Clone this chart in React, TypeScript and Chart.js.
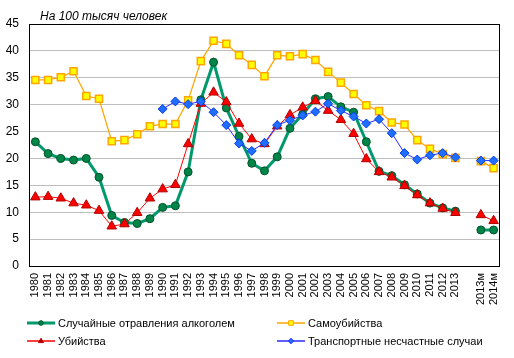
import React, { useEffect, useRef } from 'react';
import { Chart, registerables } from 'chart.js';

Chart.register(...registerables);

const categories = [
  '1980', '1981', '1982', '1983', '1984', '1985', '1986', '1987', '1988', '1989',
  '1990', '1991', '1992', '1993', '1994', '1995', '1996', '1997', '1998', '1999',
  '2000', '2001', '2002', '2003', '2004', '2005', '2006', '2007', '2008', '2009',
  '2010', '2011', '2012', '2013', '', '2013м', '2014м',
];

const alcohol = [
  23.1, 20.9, 20.0, 19.7, 20.0, 16.5, 9.4, 8.1, 7.9, 8.8,
  10.9, 11.2, 17.5, 30.9, 37.9, 29.4, 24.1, 19.1, 17.7, 20.3,
  25.6, 28.2, 31.1, 31.5, 29.6, 28.6, 23.1, 17.6, 16.8, 15.1,
  13.4, 11.7, 10.8, 10.2, null, 6.7, 6.7,
];

const suicides = [
  34.6, 34.6, 35.1, 36.2, 31.6, 31.1, 23.2, 23.4, 24.5, 26.0,
  26.4, 26.4, 30.8, 38.1, 41.9, 41.3, 39.2, 37.4, 35.3, 39.2,
  39.0, 39.4, 38.3, 36.1, 34.1, 32.0, 29.9, 28.8, 26.7, 26.3,
  23.4, 21.8, 20.8, 20.1, null, 19.5, 18.2,
];

const murders = [
  12.8, 12.9, 12.6, 11.7, 11.3, 10.3, 7.4, 7.8, 9.9, 12.6,
  14.3, 15.1, 22.7, 30.2, 32.3, 30.5, 26.5, 23.6, 22.7, 26.0,
  28.1, 29.5, 30.7, 28.9, 27.2, 24.6, 19.9, 17.5, 16.5, 14.9,
  13.2, 11.7, 10.7, 9.9, null, 9.5, 8.4,
];

const transport = [
  null, null, null, null, null, null, null, null, null, null,
  29.2, 30.6, 30.1, 30.6, 28.6, 26.2, 22.8, 21.4, 22.9, 26.2,
  27.1, 28.0, 28.7, 30.2, 28.9, 27.8, 26.5, 27.3, 24.7, 21.0,
  19.8, 20.6, 21.0, 20.2, null, 19.6, 19.6,
];

const seriesNames = [
  'Случайные отравления алкоголем',
  'Самоубийства',
  'Убийства',
  'Транспортные несчастные случаи',
];

const titleText = 'На 100 тысяч человек';
const yMin = 0;
const yMax = 45;
const yStep = 5;

const FONT = "'Liberation Sans', Arial, sans-serif";

const GREEN_LINE = '#00996B';
const GREEN_FILL = '#008548';
const GREEN_BORDER = '#00522A';
const ORANGE = '#FFA500';
const YELLOW = '#FFFF00';
const RED = '#FF0000';
const RED_BORDER = '#B00000';
const BLUE_LINE = '#2A2AFF';
const BLUE_FILL = '#1E6EFF';
const BLUE_BORDER = '#0A3CE6';

type Marker = 'circle' | 'rect' | 'triangle' | 'rectRot';

const legendItems: { name: string; line: string; lw: number; marker: Marker; fill: string; border: string; x: number; y: number }[] = [
  { name: seriesNames[0], line: GREEN_LINE, lw: 3, marker: 'circle', fill: GREEN_FILL, border: GREEN_BORDER, x: 27, y: 323 },
  { name: seriesNames[1], line: ORANGE, lw: 1.5, marker: 'rect', fill: YELLOW, border: ORANGE, x: 277, y: 323 },
  { name: seriesNames[2], line: RED, lw: 1.5, marker: 'triangle', fill: RED_BORDER, border: RED_BORDER, x: 27, y: 341 },
  { name: seriesNames[3], line: BLUE_LINE, lw: 1.5, marker: 'rectRot', fill: BLUE_FILL, border: BLUE_LINE, x: 277, y: 341 },
];

function drawMarker(ctx: CanvasRenderingContext2D, m: Marker, x: number, y: number, r: number) {
  ctx.beginPath();
  if (m === 'circle') {
    ctx.arc(x, y, r, 0, Math.PI * 2);
  } else if (m === 'rect') {
    ctx.rect(x - r, y - r, 2 * r, 2 * r);
  } else if (m === 'triangle') {
    ctx.moveTo(x, y - r * 1.2);
    ctx.lineTo(x + r * 1.1, y + r * 0.7);
    ctx.lineTo(x - r * 1.1, y + r * 0.7);
    ctx.closePath();
  } else {
    ctx.moveTo(x, y - r * 1.2);
    ctx.lineTo(x + r * 1.2, y);
    ctx.lineTo(x, y + r * 1.2);
    ctx.lineTo(x - r * 1.2, y);
    ctx.closePath();
  }
}

const decorPlugin = {
  id: 'decor',
  beforeDatasetsDraw(chart: any) {
    const { ctx, chartArea } = chart;
    ctx.save();
    ctx.strokeStyle = '#000000';
    ctx.lineWidth = 1;
    ctx.strokeRect(
      Math.round(chartArea.left) + 0.5,
      Math.round(chartArea.top) + 0.5,
      Math.round(chartArea.right - chartArea.left) - 1,
      Math.round(chartArea.bottom - chartArea.top),
    );
    ctx.restore();
  },
  afterDraw(chart: any) {
    const { ctx } = chart;
    ctx.save();
    // title
    ctx.fillStyle = '#000000';
    ctx.font = `italic 12px ${FONT}`;
    ctx.textAlign = 'left';
    ctx.textBaseline = 'alphabetic';
    ctx.fillText(titleText, 40, 20);
    // legend
    ctx.font = `11px ${FONT}`;
    for (const it of legendItems) {
      ctx.strokeStyle = it.line;
      ctx.lineWidth = it.lw;
      ctx.beginPath();
      ctx.moveTo(it.x, it.y);
      ctx.lineTo(it.x + 28, it.y);
      ctx.stroke();
      ctx.fillStyle = it.fill;
      ctx.strokeStyle = it.border;
      ctx.lineWidth = 1;
      drawMarker(ctx, it.marker, it.x + 14, it.y, 2.3);
      ctx.fill();
      ctx.stroke();
      ctx.fillStyle = '#000000';
      ctx.fillText(it.name, it.x + 31, it.y + 4);
    }
    ctx.restore();
  },
};

export default function App() {
  const canvasRef = useRef<HTMLCanvasElement | null>(null);

  useEffect(() => {
    document.body.style.margin = '0';
    const canvas = canvasRef.current;
    if (!canvas) return;
    const chart = new Chart(canvas, {
      type: 'line',
      data: {
        labels: categories,
        datasets: [
          {
            label: seriesNames[0],
            data: alcohol,
            borderColor: GREEN_LINE,
            borderWidth: 3,
            pointStyle: 'circle',
            pointRadius: 4,
            pointBackgroundColor: GREEN_FILL,
            pointBorderColor: GREEN_BORDER,
            pointBorderWidth: 1,
            order: 4,
            tension: 0,
          },
          {
            label: seriesNames[1],
            data: suicides,
            borderColor: ORANGE,
            borderWidth: 1.25,
            pointStyle: 'rect',
            pointRadius: 5,
            pointBackgroundColor: YELLOW,
            pointBorderColor: ORANGE,
            pointBorderWidth: 1.5,
            order: 2,
            tension: 0,
          },
          {
            label: seriesNames[2],
            data: murders,
            borderColor: RED,
            borderWidth: 1,
            pointStyle: 'triangle',
            pointRadius: 5.5,
            pointBackgroundColor: RED,
            pointBorderColor: RED_BORDER,
            pointBorderWidth: 1,
            order: 3,
            tension: 0,
          },
          {
            label: seriesNames[3],
            data: transport,
            borderColor: BLUE_LINE,
            borderWidth: 1,
            pointStyle: 'rectRot',
            pointRadius: 4.5,
            pointBackgroundColor: BLUE_FILL,
            pointBorderColor: BLUE_BORDER,
            pointBorderWidth: 1,
            order: 1,
            tension: 0,
          },
        ],
      },
      options: {
        animation: false,
        responsive: false,
        maintainAspectRatio: false,
        spanGaps: false,
        layout: { padding: { top: 24, right: 14, bottom: 0, left: 0 } },
        plugins: {
          legend: { display: false },
          title: { display: false },
          tooltip: { enabled: false },
        },
        scales: {
          x: {
            offset: true,
            grid: { display: false, drawTicks: false },
            border: { display: false },
            ticks: {
              autoSkip: false,
              maxRotation: 90,
              minRotation: 90,
              padding: 7,
              color: '#000000',
              font: { family: FONT, size: 11 },
            },
            afterFit: (scale: any) => {
              scale.height = 92;
            },
          },
          y: {
            min: yMin,
            max: yMax,
            grid: { color: '#BEBEBE', drawTicks: false, lineWidth: 1 },
            border: { display: false },
            ticks: {
              stepSize: yStep,
              padding: 10,
              color: '#000000',
              font: { family: FONT, size: 12 },
            },
            afterFit: (scale: any) => {
              scale.width = 29;
            },
          },
        },
      },
      plugins: [decorPlugin],
    });
    return () => chart.destroy();
  }, []);

  return (
    <div style={{ width: 514, height: 358 }}>
      <canvas ref={canvasRef} width={514} height={358} style={{ display: 'block' }} />
    </div>
  );
}
